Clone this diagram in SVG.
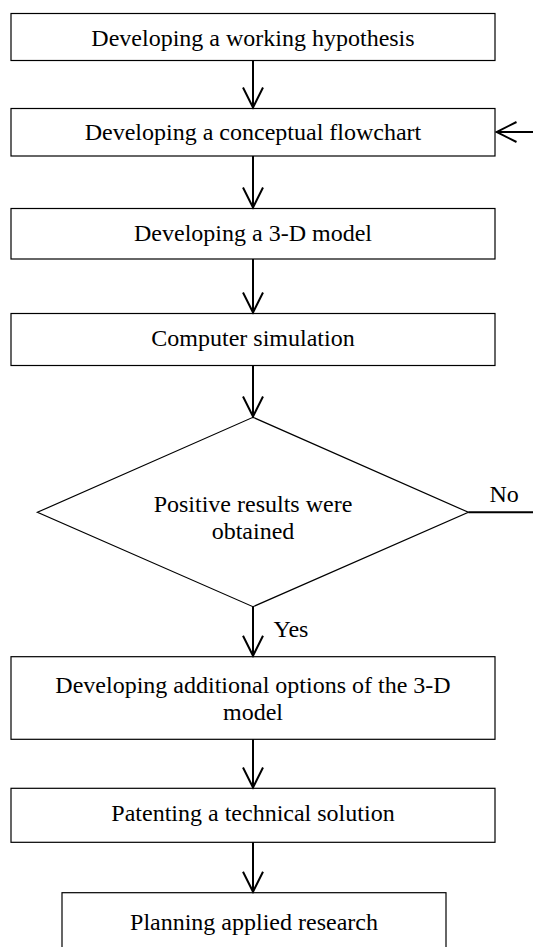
<svg xmlns="http://www.w3.org/2000/svg" width="533" height="947" viewBox="0 0 533 947">
<style>
.box{fill:#fff;stroke:#000;stroke-width:1.2}
.t{font-family:'Liberation Serif',Tinos,'Times New Roman',Times,'DejaVu Serif',serif;font-size:24px;fill:#000;text-anchor:middle}
.l{font-family:'Liberation Serif',Tinos,'Times New Roman',Times,'DejaVu Serif',serif;font-size:24px;fill:#000}
.c{fill:none;stroke:#000;stroke-width:2}
</style>
<defs>
<marker id="ah" markerUnits="userSpaceOnUse" markerWidth="24" markerHeight="24" viewBox="-2 -2 24 24" refX="20" refY="10" orient="auto">
<path d="M0,0 L20,10 L0,20" fill="none" stroke="#000" stroke-width="2"/>
</marker>
</defs>
<rect width="533" height="947" fill="#fff"/>
<g id="n1"><rect class="box" x="11" y="13.5" width="484" height="47"/><text class="t" x="253" y="46">Developing a working hypothesis</text></g>
<g id="n2"><rect class="box" x="11" y="108.5" width="484" height="47.5"/><text class="t" x="253" y="140">Developing a conceptual flowchart</text></g>
<g id="n3"><rect class="box" x="11" y="208.5" width="484" height="50.5"/><text class="t" x="253" y="241">Developing a 3-D model</text></g>
<g id="n4"><rect class="box" x="11" y="313.5" width="484" height="52"/><text class="t" x="253" y="346">Computer simulation</text></g>
<g id="n5"><polygon class="box" points="253,417.3 468.4,512.3 253,606.7 37.4,512.3"/><text class="t" x="253" y="512">Positive results were</text><text class="t" x="253" y="538.5">obtained</text></g>
<g id="n6"><rect class="box" x="11" y="656.7" width="484" height="82.6"/><text class="t" x="253" y="693">Developing additional options of the 3-D</text><text class="t" x="253" y="720">model</text></g>
<g id="n7"><rect class="box" x="11" y="788.3" width="484" height="54"/><text class="t" x="253" y="821">Patenting a technical solution</text></g>
<g id="n8"><rect class="box" x="62" y="892.7" width="384" height="80"/><text class="t" x="254" y="930">Planning applied research</text></g>
<g id="connectors">
<line class="c" x1="253" y1="60.7" x2="253" y2="107.5" marker-end="url(#ah)"/>
<line class="c" x1="253" y1="156" x2="253" y2="207.5" marker-end="url(#ah)"/>
<line class="c" x1="253" y1="259" x2="253" y2="312.5" marker-end="url(#ah)"/>
<line class="c" x1="253" y1="365.5" x2="253" y2="416.5" marker-end="url(#ah)"/>
<line class="c" x1="253" y1="606.7" x2="253" y2="655.8" marker-end="url(#ah)"/>
<line class="c" x1="253" y1="739.3" x2="253" y2="787.5" marker-end="url(#ah)"/>
<line class="c" x1="253" y1="842.3" x2="253" y2="891.8" marker-end="url(#ah)"/>
<line class="c" x1="533" y1="132" x2="496.5" y2="132" marker-end="url(#ah)"/>
<line class="c" x1="468.4" y1="512.3" x2="533" y2="512.3"/>
<text class="l" x="489.5" y="502">No</text>
<text class="l" x="273.5" y="637">Yes</text>
</g>
</svg>
